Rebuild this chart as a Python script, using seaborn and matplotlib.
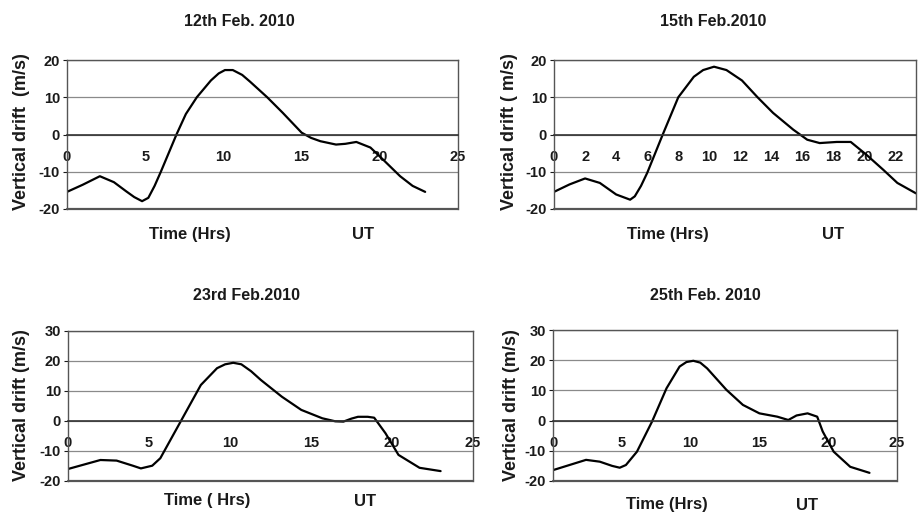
import matplotlib
matplotlib.use("Agg")
import matplotlib.pyplot as plt
import seaborn as sns
import pandas as pd

sns.set_style("white")
plt.rcParams['font.family'] = ['Liberation Sans', 'DejaVu Sans']
plt.rcParams['font.weight'] = 'bold'
plt.rcParams['axes.unicode_minus'] = False

# 12th Feb 2010
t_12 = [0, 1, 2.1, 3, 3.8, 4.3, 4.8, 5.2, 5.6, 6, 7, 7.6, 8.3, 9.2, 9.7, 10.1,
        10.6, 11.2, 11.7, 12.8, 13.8, 15, 15.6, 16.2, 17.2, 17.8, 18.5, 19.4,
        20.2, 21.3, 22.1, 22.9]
v_12 = [-15.4, -13.5, -11.2, -12.8, -15.3, -16.8, -17.9, -17, -13.8, -10, 0,
        5.5, 10, 14.5, 16.4, 17.3, 17.3, 16, 14.2, 10, 5.8, 0.5, -0.9, -1.8,
        -2.7, -2.5, -2, -3.5, -6.7, -11.2, -13.8, -15.4]

# 15th Feb 2010
t_15 = [0, 1, 2, 2.95, 4, 4.9, 5.2, 5.6, 6, 7, 8, 9, 9.6, 10.3, 11.1, 12.1,
        13.1, 14.1, 15.4, 16.3, 17.1, 18.2, 19.1, 20.1, 21.2, 22.1, 23.3]
v_15 = [-15.4, -13.4, -11.8, -13, -16.1, -17.5, -16.6, -13.8, -10.3, 0, 10,
        15.5, 17.3, 18.2, 17.3, 14.5, 10, 5.8, 1.3, -1.4, -2.3, -2, -2, -5.4,
        -9.5, -13, -15.8]

# 23rd Feb 2010
t_23 = [0, 1, 2, 3, 4, 4.5, 5.2, 5.7, 6.95, 8.2, 9.2, 9.7, 10.2, 10.7, 11.3,
        11.9, 13.2, 14.4, 15.7, 16.5, 17, 17.5, 17.9, 18.5, 18.9, 19.6, 20.4,
        21.7, 23]
v_23 = [-16, -14.5, -13, -13.2, -14.9, -15.8, -14.9, -12.4, -0.2, 12, 17.6,
        18.9, 19.4, 18.9, 16.6, 13.7, 8.1, 3.7, 0.9, -0.1, -0.2, 0.8, 1.4,
        1.4, 1.1, -4.1, -11.3, -15.6, -16.7]

# 25th Feb 2010
t_25 = [0, 1.2, 2.4, 3.4, 4.3, 4.85, 5.3, 6.1, 7.2, 8.25, 9.2, 9.7, 10.2,
        10.7, 11.2, 12.6, 13.8, 15, 16.3, 17.1, 17.7, 18.5, 19.2, 19.6, 20.4,
        21.6, 23]
v_25 = [-16.4, -14.7, -13, -13.6, -15, -15.6, -14.7, -10.3, -0.3, 10.7, 17.9,
        19.4, 19.8, 19.2, 17.3, 10.2, 5.2, 2.4, 1.3, 0.2, 1.7, 2.4, 1.3, -3.6,
        -10.3, -15.3, -17.3]

titles = ["12th Feb. 2010", "15th Feb.2010", "23rd Feb.2010", "25th Feb. 2010"]
ylabels = ["Vertical drift  (m/s)", "Vertical drift ( m/s)",
           "Vertical drift (m/s)", "Vertical drift (m/s)"]
xlabels = ["Time (Hrs)", "Time (Hrs)", "Time ( Hrs)", "Time (Hrs)"]

W, H = 920, 516
fig = plt.figure(figsize=(W / 100, H / 100), dpi=100)


def fx(px):
    return px / W


def fy(py):
    return 1 - py / H


# (left, top, right, bottom) in pixels
boxes = [(67, 60, 458, 209), (554, 60, 916, 209),
         (68, 331, 473, 481), (553, 330, 897, 481)]
series = [(t_12, v_12), (t_15, v_15), (t_23, v_23), (t_25, v_25)]
xlims = [(0, 25), (0, 23.3), (0, 25), (0, 25)]
xticks = [range(0, 26, 5), range(0, 23, 2), range(0, 26, 5), range(0, 26, 5)]
ylims = [(-20, 20), (-20, 20), (-20, 30), (-20, 30)]
title_pos = [(239, 22), (713, 22), (247, 296), (705, 295)]
ylab_pos = [(22, 132), (510, 132), (22, 405), (512, 405)]
time_pos = [(190, 235), (668, 235), (207, 501), (667, 505)]
ut_pos = [(363, 235), (833, 235), (365, 501), (807, 505)]

txt = '#1a1a1a'

for i in range(4):
    l, t, r, b = boxes[i]
    ax = fig.add_axes([fx(l), fy(b), fx(r - l), (b - t) / H])
    df = pd.DataFrame({'t': series[i][0], 'v': series[i][1]})
    sns.lineplot(data=df, x='t', y='v', ax=ax, color='black', lw=1.6)
    ax.set_xlim(*xlims[i])
    ax.set_ylim(*ylims[i])
    ax.set_yticks(range(ylims[i][0], ylims[i][1] + 1, 10))
    ax.set_xticks(list(xticks[i]))
    ax.grid(axis='y', color='#8a8a8a', lw=0.9)
    ax.set_axisbelow(True)
    ax.set_xlabel('')
    ax.set_ylabel('')
    for s in ['top', 'left', 'right']:
        ax.spines[s].set_color('#555555')
        ax.spines[s].set_linewidth(1.0)
    ax.spines['bottom'].set_position(('data', 0))
    ax.spines['bottom'].set_color('#333333')
    ax.spines['bottom'].set_linewidth(1.2)
    ax.axhline(ylims[i][0], color='#555555', lw=1.6, clip_on=False)
    ax.tick_params(axis='x', direction='in', length=3, pad=11,
                   labelsize=10.5, colors=txt)
    ax.tick_params(axis='y', direction='out', length=3, pad=2,
                   labelsize=10.5, colors=txt, left=True)
    for lab in ax.get_xticklabels() + ax.get_yticklabels():
        lab.set_fontweight('bold')

    fig.text(fx(title_pos[i][0]), fy(title_pos[i][1]), titles[i],
             ha='center', va='center', fontsize=11.5, fontweight='bold', color=txt)
    fig.text(fx(ylab_pos[i][0]), fy(ylab_pos[i][1]), ylabels[i], rotation=90,
             ha='center', va='center', fontsize=13, fontweight='bold', color=txt)
    fig.text(fx(time_pos[i][0]), fy(time_pos[i][1]), xlabels[i],
             ha='center', va='center', fontsize=12, fontweight='bold', color=txt)
    fig.text(fx(ut_pos[i][0]), fy(ut_pos[i][1]), 'UT',
             ha='center', va='center', fontsize=12, fontweight='bold', color=txt)

fig.savefig('out.png', dpi=100)
